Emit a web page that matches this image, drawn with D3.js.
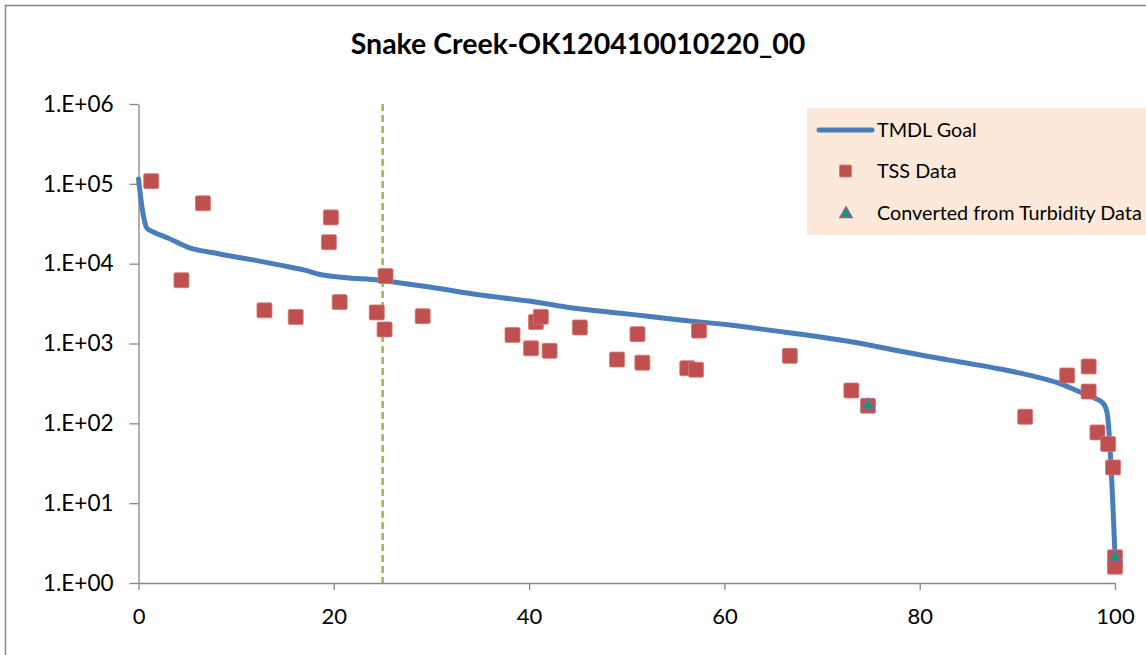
<!DOCTYPE html>
<html>
<head>
<meta charset="utf-8">
<script src="https://cdn.jsdelivr.net/npm/d3@7/dist/d3.min.js"></script>
<style>
  html, body { margin: 0; padding: 0; background: #ffffff; }
  svg { display: block; }
  text { font-family: Lato, "Open Sans", "Noto Sans", sans-serif; }
</style>
</head>
<body>
<script>
// ---------------- data ----------------
const title = "Snake Creek-OK120410010220_00";

// TMDL Goal curve (percent exceedance, load)
const goalX = [0, 0.4, 0.85, 1.5, 3, 5.3, 7.5, 9.4, 12, 14.5, 17, 18.9, 21, 24.7, 27, 29.8, 35, 40, 43.9, 50, 55, 60.6, 65, 70, 74, 77.9, 84, 88.2, 92, 94.5, 96.4, 98, 98.8, 99.2, 100];
const goalY = [115000, 47000, 28000, 25000, 21000, 15700, 13800, 12500, 11000, 9600, 8300, 7200, 6700, 6200, 5700, 5100, 4050, 3400, 2850, 2350, 2000, 1700, 1450, 1200, 1000, 805, 590, 480, 380, 310, 247, 205, 178, 134, 2.2];

// TSS Data
const tssX = [1.3, 6.6, 4.4, 19.7, 19.5, 12.9, 16.1, 20.6, 24.4, 25.3, 25.2, 29.1, 38.3, 40.7, 41.2, 40.2, 42.1, 45.2, 49.0, 51.1, 51.6, 56.2, 57.1, 57.4, 66.7, 73.0, 74.7, 90.8, 95.1, 97.3, 97.3, 98.2, 99.3, 99.8, 100, 100];
const tssY = [108000, 57000, 6200, 38000, 18600, 2600, 2150, 3300, 2450, 7000, 1500, 2200, 1280, 1860, 2160, 870, 810, 1590, 630, 1310, 575, 490, 470, 1450, 700, 258, 166, 121, 398, 516, 250, 77, 55, 28, 2.1, 1.6];

// Converted from Turbidity Data
const turbX = [74.7, 100];
const turbY = [166, 2.1];

// reference line (percent)
const refX = 25;

// axis ticks
const xTicks = [0, 20, 40, 60, 80, 100];
const yTicks = [1, 10, 100, 1000, 10000, 100000, 1000000];
const yTickLabels = ["1.E+00", "1.E+01", "1.E+02", "1.E+03", "1.E+04", "1.E+05", "1.E+06"];

const legendNames = ["TMDL Goal", "TSS Data", "Converted from Turbidity Data"];

// ---------------- chart ----------------
const W = 1146, H = 655;
const svg = d3.select("body").append("svg").attr("width", W).attr("height", H);

svg.append("rect").attr("x", 0).attr("y", 0).attr("width", W).attr("height", H).attr("fill", "#ffffff");
// outer chart frame
svg.append("rect").attr("x", 5.5).attr("y", 5.5).attr("width", W + 20).attr("height", H + 20)
  .attr("fill", "none").attr("stroke", "#8c8c8c").attr("stroke-width", 1.6);

const x = d3.scaleLinear().domain([0, 100]).range([138.5, 1115]);
const y = d3.scaleLog().domain([1, 1e6]).range([583, 104]);

const axisColor = "#868686";

// y axis
const yAxis = svg.append("g").attr("transform", `translate(${x(0)},0)`)
  .call(d3.axisLeft(y).tickValues(yTicks).tickSize(9).tickSizeOuter(0).tickPadding(16)
    .tickFormat((d, i) => yTickLabels[i]));
yAxis.selectAll("path.domain").attr("stroke", axisColor).attr("stroke-width", 1.3);
yAxis.selectAll(".tick line").attr("stroke", axisColor).attr("stroke-width", 1.3);
yAxis.selectAll(".tick text").attr("font-size", 22.5).attr("fill", "#000").attr("font-family", "Lato, sans-serif");

// x axis
const xAxis = svg.append("g").attr("transform", `translate(0,${y(1)})`)
  .call(d3.axisBottom(x).tickValues(xTicks).tickSize(7).tickSizeOuter(0).tickPadding(18)
    .tickFormat(d3.format("d")));
xAxis.selectAll("path.domain").attr("stroke", axisColor).attr("stroke-width", 1.3);
xAxis.selectAll(".tick line").attr("stroke", axisColor).attr("stroke-width", 1.3);
xAxis.selectAll(".tick text").attr("font-size", 22).attr("fill", "#000").attr("font-family", "Lato, sans-serif");

// reference dashed line
svg.append("line")
  .attr("x1", x(refX)).attr("x2", x(refX)).attr("y1", y(1e6)).attr("y2", y(1))
  .attr("stroke", "#9BBB59").attr("stroke-width", 2.6).attr("stroke-dasharray", "7,4");

// TMDL goal line
const goal = goalX.map((d, i) => [d, goalY[i]]);
svg.append("path").datum(goal)
  .attr("fill", "none").attr("stroke", "#4A7EBB").attr("stroke-width", 5)
  .attr("stroke-linejoin", "round").attr("stroke-linecap", "round")
  .attr("d", d3.line().x(d => x(d[0])).y(d => y(d[1])).curve(d3.curveMonotoneX));

// TSS squares
const sq = 15;
svg.append("g").selectAll("rect").data(tssX.map((d, i) => [d, tssY[i]])).join("rect")
  .attr("x", d => x(d[0]) - sq / 2).attr("y", d => y(d[1]) - sq / 2)
  .attr("width", sq).attr("height", sq).attr("rx", 1.5)
  .attr("fill", "#C0504D").attr("stroke", "#D27B79").attr("stroke-width", 0.8);

// Turbidity triangles
const tri = d3.symbol().type(d3.symbolTriangle).size(62);
svg.append("g").selectAll("path").data(turbX.map((d, i) => [d, turbY[i]])).join("path")
  .attr("transform", d => `translate(${x(d[0])},${y(d[1])})`)
  .attr("d", tri)
  .attr("fill", "#00A651").attr("stroke", "#8064A2").attr("stroke-width", 1.8);

// title
svg.append("text").attr("x", 578).attr("y", 54).attr("text-anchor", "middle")
  .attr("font-size", 28.5).attr("font-weight", "bold").attr("fill", "#000").text(title);

// legend
const lg = svg.append("g");
lg.append("rect").attr("x", 807).attr("y", 108).attr("width", 345).attr("height", 127).attr("fill", "#FDE9D9");
const rowY = [130, 171, 213];
lg.append("line").attr("x1", 819).attr("x2", 872).attr("y1", rowY[0]).attr("y2", rowY[0])
  .attr("stroke", "#4A7EBB").attr("stroke-width", 5).attr("stroke-linecap", "round");
lg.append("rect").attr("x", 839.5).attr("y", rowY[1] - 6).attr("width", 12).attr("height", 12).attr("rx", 1.2)
  .attr("fill", "#C0504D").attr("stroke", "#D27B79").attr("stroke-width", 0.8);
lg.append("path").attr("transform", `translate(846,${rowY[2] + 1})`).attr("d", d3.symbol().type(d3.symbolTriangle).size(58))
  .attr("fill", "#00A651").attr("stroke", "#8064A2").attr("stroke-width", 1.8);
lg.selectAll("text.leg").data(legendNames).join("text").attr("class", "leg")
  .attr("x", 877).attr("y", (d, i) => rowY[i]).attr("dy", "0.35em")
  .attr("font-size", 19.8).attr("fill", "#000").text(d => d);
</script>
</body>
</html>
